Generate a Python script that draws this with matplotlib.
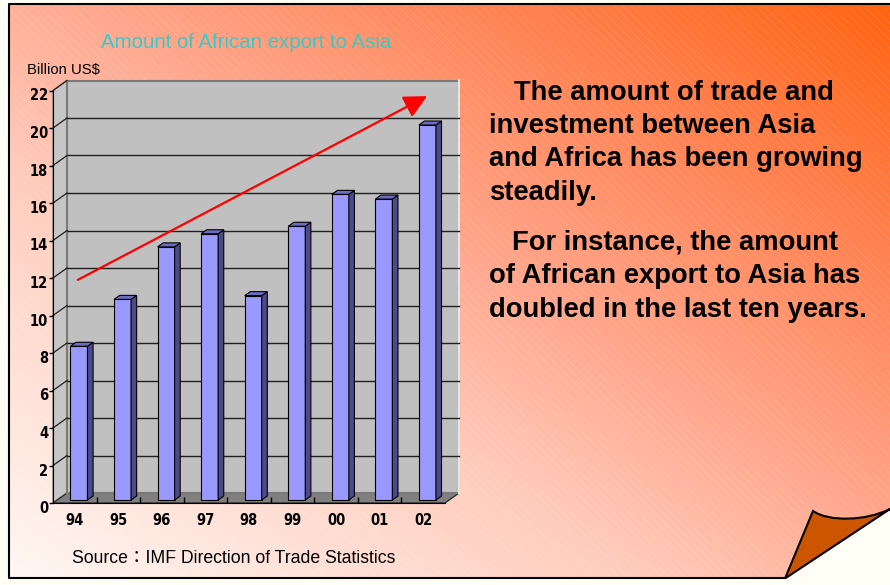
import numpy as np
import matplotlib
matplotlib.use('Agg')
import matplotlib.pyplot as plt
import matplotlib.transforms as mtrans
from matplotlib.colors import LinearSegmentedColormap
from matplotlib.patches import Rectangle, Polygon, PathPatch
from matplotlib.path import Path
from matplotlib import font_manager

# ---- chart data ----
years = ['94', '95', '96', '97', '98', '99', '00', '01', '02']
exports = [8.2, 10.7, 13.5, 14.2, 10.9, 14.6, 16.3, 16.05, 20.0]  # billion US$
y_ticks = list(range(0, 23, 2))

title = 'Amount of African export to Asia'
unit_label = 'Billion US$'
source = 'Source：IMF Direction of Trade Statistics'
para1 = ['The amount of trade and', 'investment between Asia',
         'and Africa has been growing', 'steadily.']
para2 = ['For instance, the amount', 'of African export to Asia has',
         'doubled in the last ten years.']

plt.rcParams['hatch.linewidth'] = 0.6

W, H = 890, 585
fig = plt.figure(figsize=(W / 100, H / 100), dpi=100)

# ---- slide background ----
bg = fig.add_axes([0, 0, 1, 1])
bg.add_patch(Rectangle((0, 0), W, H, color='#FFFFF6', zorder=0))
slide_cmap = LinearSegmentedColormap.from_list('slide', [
    (0.0, '#FFF7F3'), (0.35, '#FFCDBE'), (0.55, '#FFA68C'),
    (0.8, '#FF7F4C'), (1.0, '#FF6410')])
gx, gy = np.meshgrid(np.linspace(0, 1, 300), np.linspace(0, 1, 200))
bg.imshow(slide_cmap((gx + (1 - gy)) / 2), extent=(9, W, 578, 4),
          aspect='auto', interpolation='bilinear', zorder=1)
# faint diagonal texture on the slide
bg.add_patch(Rectangle((9, 4), W - 9, 574, fill=False, hatch='\\\\\\\\',
                       edgecolor=(1, 1, 1, 0.12), lw=0, zorder=2))
bg.set_xlim(0, W)
bg.set_ylim(H, 0)
bg.axis('off')

# border
bg.plot([W, 9, 9, 786], [4, 4, 578, 578], color='black', lw=1.5, zorder=3,
        solid_capstyle='butt')

# curled corner
bg.add_patch(Polygon([(785, 578.6), (W, 509), (W, H), (785, H)],
                     closed=True, fc='#FFFFF6', ec='none', zorder=3))
curl = Path([(785, 578.5), (813, 511), (829, 522), (866, 521), (W, 509), (785, 578.5)],
            [Path.MOVETO, Path.LINETO, Path.CURVE4, Path.CURVE4, Path.CURVE4,
             Path.CLOSEPOLY])
bg.add_patch(PathPatch(curl, fc='#CC5500', ec='black', lw=1.5, zorder=4,
                       joinstyle='miter'))

# texts
bg.text(246.5, 47.5, title, color='#33CCCC', fontsize=14.7, ha='center',
        va='baseline', family='Liberation Sans', zorder=5)
bg.text(27, 74, unit_label, color='black', fontsize=10.7, ha='left',
        va='baseline', family='Liberation Sans', zorder=5)
bg.text(72, 563, source, color='black', fontsize=12.7, ha='left',
        va='baseline', family=['Liberation Sans', 'Noto Sans CJK JP'], zorder=5)

for k, line in enumerate(para1):
    bg.text(514 if k == 0 else 489, 99.5 + 33.4 * k, line, fontsize=19.75,
            fontweight='bold', family='Liberation Sans', ha='left',
            va='baseline', zorder=5)
for k, line in enumerate(para2):
    bg.text(512 if k == 0 else 489, 250 + 33.4 * k, line, fontsize=19.75,
            fontweight='bold', family='Liberation Sans', ha='left',
            va='baseline', zorder=5)

# ---- pseudo-3D column chart ----
ax = fig.add_axes([53 / W, 1 - 503 / H, 392 / W, 412.5 / H])
n = len(years)
ax.set_xlim(-0.5, n - 0.5)
ax.set_ylim(0, 22)
ax.patch.set_alpha(0)

px_x = 392 / n          # pixels per category
px_y = 412.5 / 22       # pixels per billion
dx, dy = 14 / px_x, 10 / px_y   # depth offset of the back wall
f0, f1 = 0.3, 0.7               # bar depth span
bw = 17 / px_x                  # bar width

x0, x1 = -0.5, n - 0.5
top = y_ticks[-1]
# side wall, floor, back wall
ax.add_patch(Polygon([(x0, 0), (x0 + dx, dy), (x0 + dx, top + dy), (x0, top)],
                     fc='#C6C6C6', ec='#808080', lw=1, clip_on=False, zorder=1))
ax.add_patch(Polygon([(x0, 0), (x1, 0), (x1 + dx, dy), (x0 + dx, dy)],
                     fc='#808080', ec='#303030', lw=1, clip_on=False, zorder=1))
ax.add_patch(Rectangle((x0 + dx, dy), n, top, fc='#C0C0C0', ec='#7A7A7A',
                       lw=1.5, clip_on=False, zorder=1))
ax.plot([x1 + dx, x1 + dx], [dy, top + dy], color='#E6E6E6', lw=1.5,
        clip_on=False, zorder=1.5)
for v in y_ticks[1:-1]:
    ax.plot([x0 + dx, x1 + dx], [v + dy, v + dy], color='#202020', lw=1,
            clip_on=False, zorder=2)
for v in y_ticks[1:]:
    ax.plot([x0, x0 + dx], [v, v + dy], color='#202020', lw=0.9,
            clip_on=False, zorder=2)

# bars: front faces, sides and tops
pos = np.arange(n)
ax.bar(pos + f0 * dx, exports, width=bw, bottom=f0 * dy, color='#9999FF',
       edgecolor='black', lw=0.8, zorder=4, clip_on=False)
for i, v in enumerate(exports):
    r = i + bw / 2
    l = i - bw / 2
    ax.add_patch(Polygon([(r + f0 * dx, f0 * dy), (r + f1 * dx, f1 * dy),
                          (r + f1 * dx, v + f1 * dy), (r + f0 * dx, v + f0 * dy)],
                         fc='#4B4B8A', ec='black', lw=0.8, zorder=4, clip_on=False))
    ax.add_patch(Polygon([(l + f0 * dx, v + f0 * dy), (r + f0 * dx, v + f0 * dy),
                          (r + f1 * dx, v + f1 * dy), (l + f1 * dx, v + f1 * dy)],
                         fc='#6C6CC4', ec='black', lw=0.8, zorder=4, clip_on=False))

# trend arrow
ax.annotate('', xy=(8.09, 21.7), xytext=(0.07, 11.9),
            arrowprops=dict(arrowstyle='-|>,head_length=14,head_width=7',
                            mutation_scale=1, color='red', lw=1.6,
                            shrinkA=0, shrinkB=0),
            zorder=6, annotation_clip=False)

# axes styling
for side in ['top', 'right']:
    ax.spines[side].set_visible(False)
ax.spines['left'].set_color('black')
ax.spines['bottom'].set_color('black')
ax.spines['left'].set_zorder(3)
ax.spines['bottom'].set_zorder(3)

# narrow digits for the axis labels: condensed face if present
tick_prop = font_manager.FontProperties(family='DejaVu Sans', stretch='condensed',
                                        weight='bold', size=10.5)
if 'Condensed' not in font_manager.findfont(tick_prop, fallback_to_default=True):
    tick_prop = font_manager.FontProperties(family='Liberation Sans', size=10.5)

ax.set_yticks(y_ticks)
ax.set_yticklabels([str(v) for v in y_ticks], fontproperties=tick_prop)
ax.tick_params(axis='y', direction='out', length=3, width=1, pad=0.5)
ax.set_xticks(pos)
ax.set_xticklabels(years, fontproperties=tick_prop)
ax.tick_params(axis='x', length=0, pad=7)
ax.set_xticks(pos[:-1] + 0.5, minor=True)
ax.tick_params(axis='x', which='minor', direction='in', length=4, width=1)

shift = mtrans.ScaledTranslation(0, -4 / 100, fig.dpi_scale_trans)
for lbl in ax.get_yticklabels():
    lbl.set_transform(lbl.get_transform() + shift)

fig.savefig('out.png', dpi=100)
